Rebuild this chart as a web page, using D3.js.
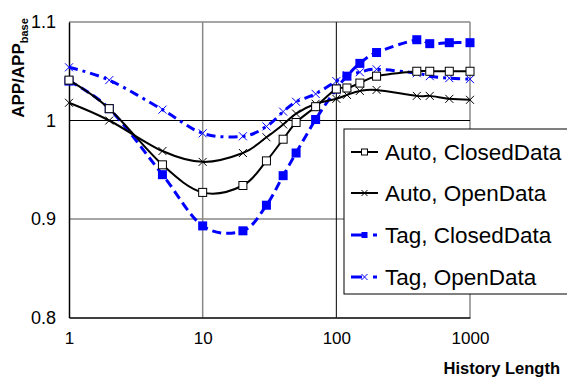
<!DOCTYPE html>
<html>
<head>
<meta charset="utf-8">
<script src="https://cdn.jsdelivr.net/npm/d3@7"></script>
<style>
  body { margin: 0; background: #fff; }
  svg { display: block; font-family: "Liberation Sans", Arial, sans-serif; }
</style>
</head>
<body>
<div id="chart"></div>
<script>
// history lengths on the x axis
var historyLen = [1, 2, 5, 10, 20, 30, 40, 50, 70, 100, 120, 150, 200, 400, 500, 700, 1000];

var autoClosed = [1.041, 1.012, 0.955, 0.927, 0.934, 0.959, 0.981, 0.998, 1.014, 1.032, 1.033, 1.038, 1.045, 1.050, 1.050, 1.050, 1.050];
var autoOpen   = [1.018, 1.000, 0.969, 0.958, 0.967, 0.983, 0.996, 1.007, 1.017, 1.022, 1.026, 1.030, 1.031, 1.025, 1.025, 1.022, 1.021];
var tagClosed  = [1.040, 1.012, 0.945, 0.893, 0.888, 0.914, 0.944, 0.967, 1.001, 1.032, 1.045, 1.058, 1.069, 1.082, 1.078, 1.079, 1.079];
var tagOpen    = [1.054, 1.041, 1.011, 0.987, 0.984, 0.994, 1.009, 1.019, 1.027, 1.040, 1.046, 1.049, 1.052, 1.048, 1.045, 1.043, 1.042];

var xTicks = [1, 10, 100, 1000];
var yTicks = [0.8, 0.9, 1, 1.1];
var yTickLabels = ["0.8", "0.9", "1", "1.1"];

var seriesNames = ["Auto, ClosedData", "Auto, OpenData", "Tag, ClosedData", "Tag, OpenData"];

var width = 567, height = 379;

var svg = d3.select("#chart")
    .append("svg")
    .attr("width", width)
    .attr("height", height);

var x = d3.scaleLog().domain([1, 1000]).range([69, 470]);
var y = d3.scaleLinear().domain([0.8, 1.1]).range([317.5, 22]);

var series = [
    {name: seriesNames[0], values: autoClosed, color: "#000", width: 2, dash: null, marker: "openSquare"},
    {name: seriesNames[1], values: autoOpen, color: "#000", width: 2, dash: null, marker: "cross"},
    {name: seriesNames[2], values: tagClosed, color: "#0000ff", width: 3, dash: "9,5", marker: "fillSquare"},
    {name: seriesNames[3], values: tagOpen, color: "#0000ff", width: 3, dash: "9,5,3,5", marker: "cross"}
];

// grid and frame
var grid = svg.append("g");
grid.append("line").attr("x1", x(1)).attr("x2", x(1000)).attr("y1", y(1.1)).attr("y2", y(1.1))
    .attr("stroke", "#888").attr("stroke-width", 1.5);
grid.append("line").attr("x1", x(1000)).attr("x2", x(1000)).attr("y1", y(1.1)).attr("y2", y(0.8))
    .attr("stroke", "#888").attr("stroke-width", 1.5);
grid.append("line").attr("x1", x(10)).attr("x2", x(10)).attr("y1", y(1.1)).attr("y2", y(0.8))
    .attr("stroke", "#888").attr("stroke-width", 1.5);
grid.append("line").attr("x1", x(1)).attr("x2", x(1000)).attr("y1", y(0.9)).attr("y2", y(0.9))
    .attr("stroke", "#888").attr("stroke-width", 1.5);
grid.append("line").attr("x1", x(100)).attr("x2", x(100)).attr("y1", y(1.1)).attr("y2", y(0.8))
    .attr("stroke", "#000").attr("stroke-width", 1);
grid.append("line").attr("x1", x(1)).attr("x2", x(1000)).attr("y1", y(1)).attr("y2", y(1))
    .attr("stroke", "#000").attr("stroke-width", 1);

// axes
var yAxis = d3.axisLeft(y).tickValues(yTicks).tickSize(0).tickPadding(13)
    .tickFormat(function(d, i) { return yTickLabels[i]; });
var gy = svg.append("g").attr("transform", "translate(" + x(1) + ",0)").call(yAxis);
gy.select(".domain").attr("stroke", "#000").attr("stroke-width", 1.5);
gy.selectAll("text").attr("font-size", 18).attr("fill", "#000")
    .attr("font-family", "'Liberation Sans', Arial, sans-serif");

var xAxis = d3.axisBottom(x).tickValues(xTicks).tickSize(0).tickPadding(14)
    .tickFormat(d3.format("d"));
var gx = svg.append("g").attr("transform", "translate(0," + y(0.8) + ")").call(xAxis);
gx.select(".domain").attr("stroke", "#000").attr("stroke-width", 1.5);
gx.selectAll("text").attr("font-size", 17).attr("fill", "#000")
    .attr("font-family", "'Liberation Sans', Arial, sans-serif");

// axis titles
svg.append("text")
    .attr("x", 560).attr("y", 374)
    .attr("text-anchor", "end")
    .attr("font-size", 16.5).attr("font-weight", "bold")
    .text("History Length");

var yTitle = svg.append("text")
    .attr("transform", "translate(24,68) rotate(-90)")
    .attr("text-anchor", "middle")
    .attr("font-size", 17).attr("font-weight", "bold");
yTitle.append("tspan").text("APP/APP");
yTitle.append("tspan").attr("font-size", 11).attr("dy", 4).text("base");

// lines
var line = d3.line()
    .x(function(d) { return x(d[0]); })
    .y(function(d) { return y(d[1]); })
    .curve(d3.curveCatmullRom.alpha(0));

function drawMarker(g, type, color, cx, cy, s) {
    if (type === "openSquare") {
        g.append("rect").attr("x", cx - s / 2).attr("y", cy - s / 2).attr("width", s).attr("height", s)
            .attr("fill", "#fff").attr("stroke", "#000").attr("stroke-width", 1);
    } else if (type === "fillSquare") {
        g.append("rect").attr("x", cx - s / 2).attr("y", cy - s / 2).attr("width", s).attr("height", s)
            .attr("fill", color).attr("stroke", "none");
    } else {
        var h = s / 2;
        g.append("path").attr("d", "M" + (cx - h) + "," + (cy - h) + "L" + (cx + h) + "," + (cy + h) +
            "M" + (cx - h) + "," + (cy + h) + "L" + (cx + h) + "," + (cy - h))
            .attr("stroke", color).attr("stroke-width", 1).attr("fill", "none");
    }
}

var drawOrder = [3, 2, 1, 0];
drawOrder.forEach(function(i) {
    var s = series[i];
    var pts = historyLen.map(function(h, j) { return [h, s.values[j]]; });
    var g = svg.append("g");
    g.append("path")
        .attr("d", line(pts))
        .attr("fill", "none")
        .attr("stroke", s.color)
        .attr("stroke-width", s.width)
        .attr("stroke-dasharray", s.dash);
    pts.forEach(function(p) {
        drawMarker(g, s.marker, s.color, x(p[0]), y(p[1]), s.marker === "fillSquare" ? 9 : 8);
    });
});

// legend
var legend = svg.append("g");
legend.append("rect")
    .attr("x", 344).attr("y", 129).attr("width", 240).attr("height", 165)
    .attr("fill", "#fff").attr("stroke", "#000").attr("stroke-width", 1);

var rowY = [152, 193, 235, 277];
series.forEach(function(s, i) {
    var g = legend.append("g");
    if (s.dash) {
        g.append("line").attr("x1", 351).attr("x2", 362).attr("y1", rowY[i]).attr("y2", rowY[i])
            .attr("stroke", s.color).attr("stroke-width", s.width);
        g.append("line").attr("x1", 373).attr("x2", 377).attr("y1", rowY[i]).attr("y2", rowY[i])
            .attr("stroke", s.color).attr("stroke-width", s.width);
    } else {
        g.append("line").attr("x1", 351).attr("x2", 378).attr("y1", rowY[i]).attr("y2", rowY[i])
            .attr("stroke", s.color).attr("stroke-width", s.width);
    }
    drawMarker(g, s.marker, s.color, 364.5, rowY[i], 6);
    g.append("text")
        .attr("x", 385).attr("y", rowY[i]).attr("dy", "0.36em")
        .attr("font-size", 22.5)
        .text(s.name);
});
</script>
</body>
</html>
